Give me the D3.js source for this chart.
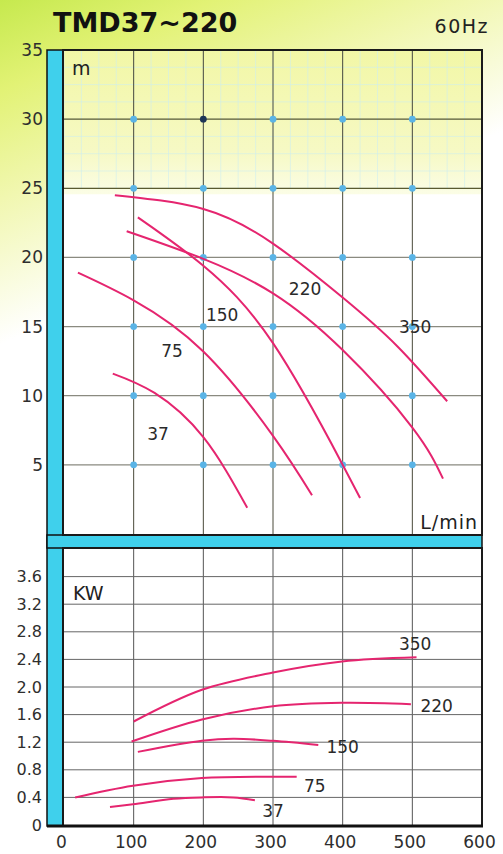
<!DOCTYPE html>
<html><head><meta charset="utf-8">
<script src="https://cdn.jsdelivr.net/npm/d3@7/dist/d3.min.js"></script>
<style>html,body{margin:0;padding:0;background:#fff;}svg{display:block;}</style>
</head><body>
<svg id="c" width="503" height="854"></svg>
<script>
// ---- data ----
const flowTicks = [0, 100, 200, 300, 400, 500, 600];
const headTicks = [5, 10, 15, 20, 25, 30, 35];
const powerTicks = [0, 0.4, 0.8, 1.2, 1.6, 2.0, 2.4, 2.8, 3.2, 3.6];
const powerTickLabels = ["0", "0.4", "0.8", "1.2", "1.6", "2.0", "2.4", "2.8", "3.2", "3.6"];
const models = ["37", "75", "150", "220", "350"];

const head37 = [[70, 11.6], [130, 10.2], [200, 7.0], [263, 1.9]];
const head75 = [[20, 18.9], [100, 16.9], [200, 13.2], [300, 7.1], [356, 2.8]];
const head150 = [[106, 22.9], [200, 19.4], [300, 13.8], [399, 5.1], [425, 2.6]];
const head220 = [[90, 21.9], [200, 19.9], [300, 17.4], [400, 13.3], [500, 7.7], [544, 4.0]];
const head350 = [[73, 24.5], [200, 23.5], [300, 21.0], [400, 17.1], [478, 13.6], [550, 9.6]];

const power37 = [[66, 0.26], [99, 0.30], [157, 0.38], [198, 0.40], [243, 0.40], [274, 0.36]];
const power75 = [[16, 0.40], [99, 0.57], [198, 0.68], [300, 0.70], [334, 0.70]];
const power150 = [[106, 1.06], [198, 1.22], [243, 1.25], [300, 1.22], [365, 1.16]];
const power220 = [[97, 1.21], [198, 1.53], [300, 1.72], [399, 1.77], [498, 1.75]];
const power350 = [[100, 1.50], [198, 1.96], [300, 2.21], [399, 2.37], [506, 2.43]];

// label anchors (data coords)
const headLabelPos = [[135, 6.8], [155, 12.8], [227, 15.4], [346, 17.3], [504, 14.5]];
const powerLabelPos = [[300, 0.12], [360, 0.48], [400, 1.04], [535, 1.64], [504, 2.54]];

const headSeries = [head37, head75, head150, head220, head350];
const powerSeries = [power37, power75, power150, power220, power350];

// ---- layout ----
const svg = d3.select("#c");
const X0 = 63, X1 = 482;
const topY0 = 50, topY1 = 535, botY0 = 548, botY1 = 826;
const x = d3.scaleLinear().domain([0, 600]).range([64, 482]);
const yH = d3.scaleLinear().domain([0, 35]).range([534, 50]);
const yP = d3.scaleLinear().domain([0, 4]).range([825, 549]);

const defs = svg.append("defs");
const bg = defs.append("linearGradient").attr("id", "bg").attr("x1", 0).attr("y1", 0).attr("x2", 0.25).attr("y2", 1);
bg.append("stop").attr("offset", "0").attr("stop-color", "#c6e94e");
bg.append("stop").attr("offset", "0.1").attr("stop-color", "#e2f275");
bg.append("stop").attr("offset", "0.22").attr("stop-color", "#f1f7b0");
bg.append("stop").attr("offset", "0.38").attr("stop-color", "#ffffff");
bg.append("stop").attr("offset", "1").attr("stop-color", "#ffffff");
const yel = defs.append("linearGradient").attr("id", "yel").attr("x1", 0).attr("y1", 0).attr("x2", 0).attr("y2", 1);
yel.append("stop").attr("offset", "0").attr("stop-color", "#f2f7a6");
yel.append("stop").attr("offset", "0.7").attr("stop-color", "#f6f9c4");
yel.append("stop").attr("offset", "1").attr("stop-color", "#fbfde6");

svg.append("rect").attr("width", 503).attr("height", 854).attr("fill", "url(#bg)");

// plot backgrounds
svg.append("rect").attr("x", X0).attr("y", topY0).attr("width", X1 - X0).attr("height", topY1 - topY0).attr("fill", "#fff");
svg.append("rect").attr("x", X0).attr("y", topY0).attr("width", X1 - X0).attr("height", yH(25) + 6 - topY0).attr("fill", "url(#yel)");
svg.append("rect").attr("x", X0).attr("y", botY0).attr("width", X1 - X0).attr("height", botY1 - botY0).attr("fill", "#fff");

// faint minor grid in the yellow band
const minorX = d3.range(0, 601, 25);
const minorY = d3.range(25, 35.01, 1.25);
svg.append("g").selectAll("line").data(minorX).join("line")
  .attr("x1", d => x(d)).attr("x2", d => x(d)).attr("y1", topY0).attr("y2", yH(25))
  .attr("stroke", "#cdeef2").attr("stroke-width", 1).attr("opacity", 0.55);
svg.append("g").selectAll("line").data(minorY).join("line")
  .attr("x1", X0).attr("x2", X1).attr("y1", d => yH(d)).attr("y2", d => yH(d))
  .attr("stroke", "#cdeef2").attr("stroke-width", 1).attr("opacity", 0.55);

// major grid top
const gridX = flowTicks.filter(d => d > 0 && d < 600);
svg.append("g").selectAll("line").data(gridX).join("line")
  .attr("x1", d => x(d)).attr("x2", d => x(d)).attr("y1", topY0).attr("y2", topY1)
  .attr("stroke", "#4a4a3a").attr("stroke-width", 1);
svg.append("g").selectAll("line").data(headTicks.filter(d => d < 35)).join("line")
  .attr("x1", X0).attr("x2", X1).attr("y1", d => yH(d)).attr("y2", d => yH(d))
  .attr("stroke", d => d >= 25 ? "#5a5a30" : "#8a8a80").attr("stroke-width", 1.2);
// dots
const dots = [];
gridX.forEach(fx => headTicks.filter(d => d < 35).forEach(hy => dots.push([fx, hy])));
svg.append("g").selectAll("circle").data(dots).join("circle")
  .attr("cx", d => x(d[0])).attr("cy", d => yH(d[1])).attr("r", 3.4)
  .attr("fill", d => (d[0] === 200 && d[1] === 30) ? "#1d3557" : "#5ab4e6");

// major grid bottom
svg.append("g").selectAll("line").data(gridX).join("line")
  .attr("x1", d => x(d)).attr("x2", d => x(d)).attr("y1", botY0).attr("y2", botY1)
  .attr("stroke", "#555").attr("stroke-width", 1);
svg.append("g").selectAll("line").data(powerTicks.filter(d => d > 0)).join("line")
  .attr("x1", X0).attr("x2", X1).attr("y1", d => yP(d)).attr("y2", d => yP(d))
  .attr("stroke", "#666").attr("stroke-width", 1);

// frames
svg.append("rect").attr("x", 47).attr("y", topY0).attr("width", 16).attr("height", botY1 - topY0)
  .attr("fill", "#3fd0ec").attr("stroke", "#111").attr("stroke-width", 1.5);
svg.append("rect").attr("x", 47).attr("y", topY1).attr("width", X1 - 47).attr("height", botY0 - topY1)
  .attr("fill", "#3fd0ec").attr("stroke", "#111").attr("stroke-width", 1.5);
svg.append("rect").attr("x", X0).attr("y", topY0).attr("width", X1 - X0).attr("height", topY1 - topY0)
  .attr("fill", "none").attr("stroke", "#1a1a1a").attr("stroke-width", 2);
svg.append("rect").attr("x", X0).attr("y", botY0).attr("width", X1 - X0).attr("height", botY1 - botY0)
  .attr("fill", "none").attr("stroke", "#1a1a1a").attr("stroke-width", 2);
svg.append("line").attr("x1", 47).attr("x2", X1 + 1).attr("y1", botY1).attr("y2", botY1)
  .attr("stroke", "#111").attr("stroke-width", 3);

// curves
const curveColor = "#e5256f";
const lineH = d3.line().x(d => x(d[0])).y(d => yH(d[1])).curve(d3.curveNatural);
const lineP = d3.line().x(d => x(d[0])).y(d => yP(d[1])).curve(d3.curveCatmullRom.alpha(0.5));
svg.append("g").selectAll("path").data(headSeries).join("path")
  .attr("d", lineH).attr("fill", "none").attr("stroke", curveColor).attr("stroke-width", 2);
svg.append("g").selectAll("path").data(powerSeries).join("path")
  .attr("d", lineP).attr("fill", "none").attr("stroke", curveColor).attr("stroke-width", 2);

const font = "'DejaVu Sans', sans-serif";
// curve labels
svg.append("g").selectAll("text").data(models).join("text")
  .attr("x", (d, i) => x(headLabelPos[i][0])).attr("y", (d, i) => yH(headLabelPos[i][1]))
  .attr("text-anchor", "middle").attr("font-family", font).attr("font-size", 17).attr("fill", "#2a2a2a")
  .text(d => d);
svg.append("g").selectAll("text").data(models).join("text")
  .attr("x", (d, i) => x(powerLabelPos[i][0])).attr("y", (d, i) => yP(powerLabelPos[i][1]))
  .attr("text-anchor", "middle").attr("font-family", font).attr("font-size", 17).attr("fill", "#2a2a2a")
  .text(d => d);

// axes
function styleAxis(g, size) {
  g.select(".domain").remove();
  g.selectAll(".tick line").remove();
  g.selectAll("text").attr("font-family", font).attr("font-size", size).attr("fill", "#2e2e2e");
}
svg.append("g").attr("transform", "translate(47,0)")
  .call(d3.axisLeft(yH).tickValues(headTicks).tickSize(0).tickPadding(4).tickFormat(d3.format("d")))
  .call(g => styleAxis(g, 17));
svg.append("g").attr("transform", "translate(46,0)")
  .call(d3.axisLeft(yP).tickValues(powerTicks).tickSize(0).tickPadding(4).tickFormat((d, i) => powerTickLabels[i]))
  .call(g => styleAxis(g, 16));
svg.append("g").attr("transform", "translate(-3," + (botY1 + 4) + ")")
  .call(d3.axisBottom(x).tickValues(flowTicks).tickSize(0).tickPadding(6).tickFormat(d3.format("d")))
  .call(g => styleAxis(g, 17));

// titles
svg.append("text").attr("x", 53).attr("y", 32).attr("font-family", font).attr("font-weight", "bold")
  .attr("font-size", 27).attr("fill", "#111").text("TMD37~220");
svg.append("text").attr("x", 489).attr("y", 33).attr("text-anchor", "end").attr("font-family", font)
  .attr("font-size", 19).attr("letter-spacing", 1.5).attr("fill", "#222").text("60Hz");
svg.append("text").attr("x", 72).attr("y", 75).attr("font-family", font).attr("font-size", 19)
  .attr("fill", "#222").text("m");
svg.append("text").attr("x", 73).attr("y", 600).attr("font-family", font).attr("font-size", 19)
  .attr("fill", "#222").text("KW");
svg.append("text").attr("x", 478).attr("y", 529).attr("text-anchor", "end").attr("font-family", font)
  .attr("font-size", 19).attr("letter-spacing", 1).attr("fill", "#222").text("L/min");
</script>
</body></html>
